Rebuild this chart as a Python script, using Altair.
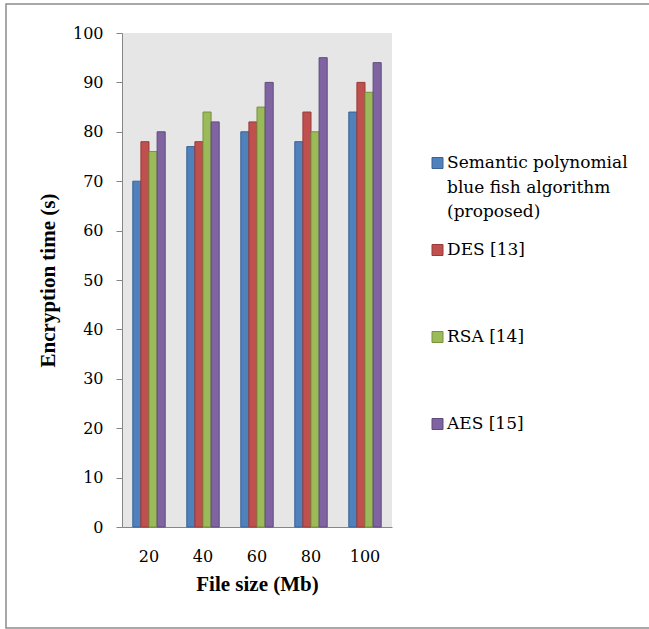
import altair as alt
import pandas as pd

# ---- data ----
file_sizes = ["20", "40", "60", "80", "100"]
series = [
    "Semantic polynomial blue fish algorithm (proposed)",
    "DES [13]",
    "RSA [14]",
    "AES [15]",
]
semantic = [70, 77, 80, 78, 84]
des = [78, 78, 82, 84, 90]
rsa = [76, 84, 85, 80, 88]
aes = [80, 82, 90, 95, 94]
y_ticks = [0, 10, 20, 30, 40, 50, 60, 70, 80, 90, 100]
first_label_lines = ["Semantic polynomial", "blue fish algorithm", "(proposed)"]

fill_colors = ["#4F81BD", "#C0504D", "#9BBB59", "#8064A2"]
stroke_colors = ["#3A6394", "#963C3A", "#77913F", "#5F4A7B"]

rows = []
for name, vals in zip(series, [semantic, des, rsa, aes]):
    for fs, v in zip(file_sizes, vals):
        rows.append({"File size": fs, "Series": name, "Time": v})
df = pd.DataFrame(rows)

legend_df = pd.DataFrame({
    "Series": series,
    "Label": ["|".join(first_label_lines)] + series[1:],
})

SERIF_BOLD = "Liberation Serif"
SERIF_REG = "DejaVu Serif"

fill_scale = alt.Scale(domain=series, range=fill_colors)
stroke_scale = alt.Scale(domain=series, range=stroke_colors)

bars = alt.Chart(df).mark_bar(strokeWidth=1).encode(
    x=alt.X(
        "File size:N",
        sort=file_sizes,
        scale=alt.Scale(paddingInner=0.4, paddingOuter=0.2),
        axis=alt.Axis(
            title="File size (Mb)",
            labelAngle=0,
            ticks=False,
            tickSize=0,
            labelPadding=21,
            titlePadding=9,
        ),
    ),
    xOffset=alt.XOffset("Series:N", sort=series,
                        scale=alt.Scale(paddingInner=0, paddingOuter=0)),
    y=alt.Y(
        "Time:Q",
        scale=alt.Scale(domain=[0, 100], nice=False),
        axis=alt.Axis(
            values=y_ticks,
            title="Encryption time (s)",
            grid=False,
            tickSize=6,
            labelPadding=13,
            titlePadding=14,
        ),
    ),
    fill=alt.Fill("Series:N", sort=series, scale=fill_scale, legend=None),
    stroke=alt.Stroke("Series:N", sort=series, scale=stroke_scale, legend=None),
)

# legend (placed to the right of the plot area)
legend_y = alt.Y("Series:N", sort=series,
                 scale=alt.Scale(domain=series, range=[130, 391], padding=0),
                 axis=None)

legend_symbols = alt.Chart(legend_df).mark_square(
    size=121, filled=True, strokeWidth=1, opacity=1
).encode(
    x=alt.value(315.5),
    y=legend_y,
    fill=alt.Fill("Series:N", sort=series, scale=fill_scale, legend=None),
    stroke=alt.Stroke("Series:N", sort=series, scale=stroke_scale, legend=None),
)

legend_text = alt.Chart(legend_df).mark_text(
    align="left", baseline="middle", font=SERIF_REG, fontSize=17,
    lineHeight=24.5, lineBreak="|", color="black"
).encode(
    x=alt.value(325),
    y=legend_y,
    text="Label:N",
)

frame = alt.Chart(alt.Data(values=[{"k": 1}])).mark_rect(
    fill=None, stroke="#8c8c8c", strokeWidth=1.5
).encode(
    x=alt.value(-116), x2=alt.value(540),
    y=alt.value(-29), y2=alt.value(595),
)

chart = alt.layer(frame, bars, legend_symbols, legend_text).resolve_scale(
    y="independent"
).properties(
    width=270,
    height=494,
    autosize="none",
    padding={"left": 122, "top": 33, "right": 257, "bottom": 102},
    background="white",
).configure_view(
    fill="#e6e6e6", stroke=None
).configure_axis(
    domainColor="#868686",
    tickColor="#868686",
    domainWidth=1,
    labelFont=SERIF_REG,
    labelFontSize=16,
    labelColor="black",
    titleFont=SERIF_BOLD,
    titleFontSize=21,
    titleFontWeight="bold",
    titleColor="black",
)

chart.save("out.html", embed_options={"renderer": "svg", "actions": False})
